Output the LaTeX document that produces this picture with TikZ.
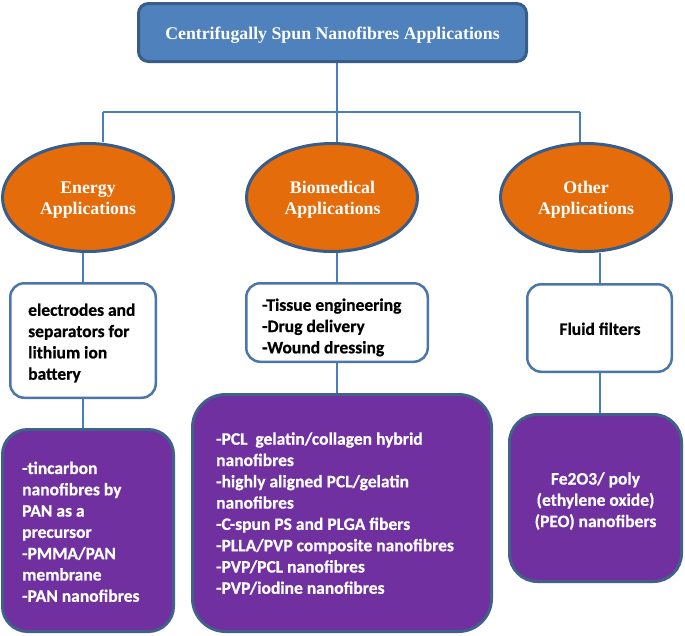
\documentclass[tikz,border=0pt]{standalone}
\usepackage{fontspec}
\setmainfont{Liberation Serif}
\newfontfamily\bodyfont[BoldFont={Carlito Bold},BoldFeatures={FakeBold=0.6}]{Carlito}
\usetikzlibrary{shapes.geometric}
\pgfdeclarelayer{background}
\pgfsetlayers{background,main}
\definecolor{titlefill}{HTML}{4F81BD}
\definecolor{darkborder}{HTML}{385D8A}
\definecolor{orangefill}{HTML}{E46C0A}
\definecolor{connblue}{HTML}{4A7EBB}
\definecolor{boxborder}{HTML}{4A76AC}
\definecolor{purplefill}{HTML}{7030A0}
\definecolor{purpleborder}{HTML}{41608A}
\begin{document}
\begin{tikzpicture}[x=1pt,y=-1pt,
  titlebox/.style={draw=darkborder,line width=3pt,fill=titlefill,rounded corners=10pt,inner sep=0pt,minimum width=388pt,minimum height=58pt},
  ell/.style={ellipse,draw=darkborder,line width=3pt,fill=orangefill,inner sep=0pt,minimum width=171pt,minimum height=108pt},
  whitebox/.style={draw=boxborder,line width=2.5pt,fill=white,rounded corners=14pt,inner sep=0pt},
  purplebox/.style={draw=purpleborder,line width=3pt,fill=purplefill,inner sep=0pt},
  headtext/.style={text=white,inner sep=0pt,font=\bfseries\fontsize{17.8}{21.2}\selectfont,align=center},
  bodytext/.style={inner sep=0pt,font=\bodyfont\bfseries\fontsize{17.5}{21.3}\selectfont},
  conn/.style={draw=connblue,line width=2pt}]
\useasboundingbox (0,0) rectangle (685,635);
% title
\node[titlebox] (title) at (332.5,32.5) {};
\node[headtext,anchor=base] (titletxt) at (332.5,39.3) {Centrifugally Spun Nanofibres Applications};
% ellipses
\node[ell] (e1) at (88,197.5) {};
\node[ell] (e2) at (332,197.5) {};
\node[ell] (e3) at (586,197.5) {};
\node[headtext] (e1t) at (88,200) {Energy\\Applications};
\node[headtext] (e2t) at (332.5,200) {Biomedical\\Applications};
\node[headtext] (e3t) at (586,200) {Other\\Applications};
% white boxes
\node[whitebox,minimum width=145.5pt,minimum height=114.5pt] (w1) at (83,340.5) {};
\node[whitebox,minimum width=181.5pt,minimum height=78.5pt] (w2) at (337,322.5) {};
\node[whitebox,minimum width=144.5pt,minimum height=87.5pt] (w3) at (599.5,328) {};
\node[bodytext,anchor=west,align=left] (w1t) at (28,343) {electrodes and\\separators for\\lithium ion\\battery};
\node[bodytext,anchor=west,align=left] (w2t) at (262,327.4) {-Tissue engineering\\-Drug delivery\\-Wound dressing};
\node[bodytext] (w3t) at (600,328.8) {Fluid filters};
% purple boxes
\node[purplebox,rounded corners=25pt,minimum width=171pt,minimum height=202pt] (p1) at (88,530.5) {};
\node[purplebox,rounded corners=33pt,minimum width=299pt,minimum height=237pt] (p2) at (342,513) {};
\node[purplebox,rounded corners=28pt,minimum width=172pt,minimum height=167pt] (p3) at (595.5,498) {};
\node[bodytext,text=white,anchor=west,align=left] (p1t) at (22,531.8) {-tincarbon\\nanofibres by\\PAN as a\\precursor\\-PMMA/PAN\\membrane\\-PAN nanofibres};
\node[bodytext,text=white,anchor=west,align=left] (p2t) at (216,513.5) {-PCL\ \ gelatin/collagen hybrid\\nanofibres\\-highly aligned PCL/gelatin\\nanofibres\\-C-spun PS and PLGA fibers\\-PLLA/PVP composite nanofibres\\-PVP/PCL nanofibres\\-PVP/iodine nanofibres};
\node[bodytext,text=white,align=center] (p3t) at (595.5,501) {Fe2O3/ poly\\(ethylene oxide)\\(PEO) nanofibers};
% connectors
\coordinate (j1) at (103,112);
\coordinate (j3) at (580,112);
\begin{pgfonlayer}{background}
\draw[conn] (title.south -| w2.north) -- (w2.north |- e2.north);
\draw[conn] (j1) -- (j3);
\draw[conn] (j1) -- (j1 |- e1.north);
\draw[conn] (j3) -- (j3 |- e3.north);
\draw[conn] (w1.north |- e1.south) -- (w1.north);
\draw[conn] (w2.north |- e2.south) -- (w2.north);
\draw[conn] (w3.north |- e3.south) -- (w3.north);
\draw[conn] (w1.south) -- (w1.south |- p1.north);
\draw[conn] (w2.south) -- (w2.south |- p2.north);
\draw[conn] (w3.south) -- (w3.south |- p3.north);
\end{pgfonlayer}
\end{tikzpicture}
\end{document}
